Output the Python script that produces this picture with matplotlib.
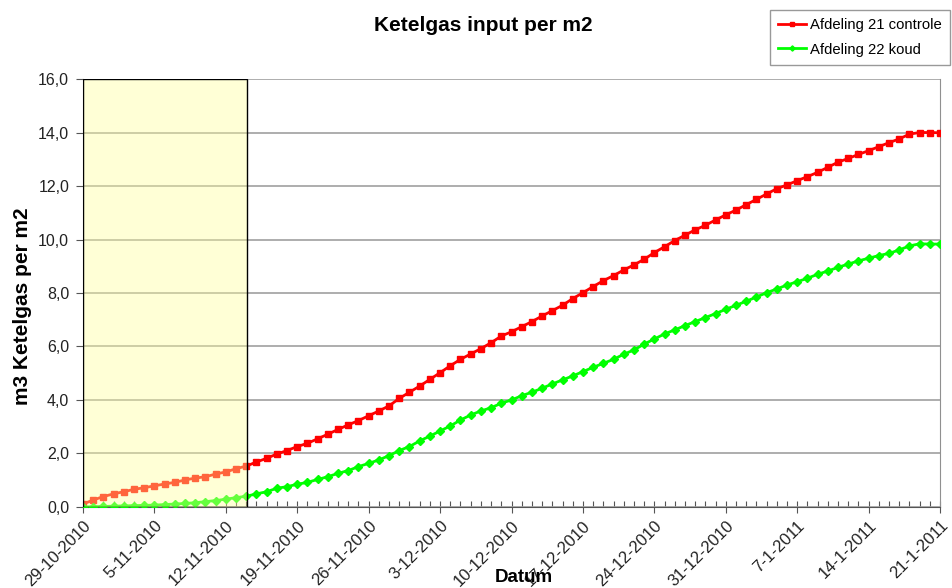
import pandas as pd
import matplotlib
matplotlib.use('Agg')
import matplotlib.pyplot as plt
from matplotlib.patches import Rectangle
from matplotlib.ticker import MultipleLocator, FixedLocator

plt.rcParams['font.family'] = ['Liberation Sans', 'DejaVu Sans']

# Daily values from 29-10-2010 to 21-1-2011
dates = pd.date_range('2010-10-29', '2011-01-21', freq='D')

afd21_controle = [
    0.11, 0.26, 0.39, 0.49, 0.57, 0.66, 0.72, 0.79, 0.86, 0.92,
    1.01, 1.08, 1.13, 1.23, 1.31, 1.43, 1.53, 1.68, 1.82, 1.98,
    2.11, 2.26, 2.38, 2.55, 2.72, 2.90, 3.07, 3.23, 3.41, 3.59,
    3.78, 4.06, 4.29, 4.52, 4.77, 5.02, 5.28, 5.52, 5.72, 5.92,
    6.14, 6.39, 6.55, 6.74, 6.93, 7.14, 7.34, 7.54, 7.79, 8.01,
    8.24, 8.46, 8.65, 8.86, 9.05, 9.26, 9.51, 9.73, 9.96, 10.16,
    10.36, 10.53, 10.73, 10.92, 11.10, 11.30, 11.50, 11.70, 11.90, 12.04,
    12.20, 12.35, 12.51, 12.70, 12.89, 13.03, 13.18, 13.32, 13.47, 13.62,
    13.76, 13.94, 14.00, 14.00, 13.99,
]

afd22_koud = [
    0.00, 0.01, 0.02, 0.03, 0.04, 0.05, 0.06, 0.07, 0.09, 0.11,
    0.13, 0.16, 0.20, 0.24, 0.29, 0.35, 0.40, 0.49, 0.57, 0.70,
    0.76, 0.85, 0.92, 1.03, 1.13, 1.26, 1.36, 1.51, 1.63, 1.76,
    1.92, 2.11, 2.26, 2.47, 2.65, 2.84, 3.03, 3.25, 3.44, 3.59,
    3.71, 3.88, 4.00, 4.16, 4.29, 4.44, 4.60, 4.75, 4.90, 5.06,
    5.22, 5.37, 5.52, 5.71, 5.87, 6.09, 6.28, 6.47, 6.62, 6.78,
    6.93, 7.08, 7.23, 7.39, 7.54, 7.69, 7.85, 8.01, 8.15, 8.30,
    8.42, 8.55, 8.70, 8.82, 8.96, 9.08, 9.20, 9.30, 9.40, 9.48,
    9.61, 9.76, 9.84, 9.83, 9.83,
]

tick_labels = ['29-10-2010', '5-11-2010', '12-11-2010', '19-11-2010', '26-11-2010',
               '3-12-2010', '10-12-2010', '17-12-2010', '24-12-2010', '31-12-2010',
               '7-1-2011', '14-1-2011', '21-1-2011']

# shaded start-up period (29-10 to ~14-11)
shade_start = pd.Timestamp('2010-10-29')
shade_end = pd.Timestamp('2010-11-14 02:00')

fig = plt.figure(figsize=(9.52, 5.88), dpi=100)
ax = fig.add_axes([0.0872, 0.1378, 0.9002, 0.7278])

x = matplotlib.dates.date2num(dates)

ax.plot(x, afd21_controle, color='#ff0000', lw=2, marker='s', ms=4.2,
        label='Afdeling 21 controle', zorder=3)
ax.plot(x, afd22_koud, color='#00ff00', lw=2, marker='D', ms=3.8,
        label='Afdeling 22 koud', zorder=3)

x0 = matplotlib.dates.date2num(shade_start)
x1 = matplotlib.dates.date2num(shade_end)
ax.add_patch(Rectangle((x0, 0), x1 - x0, 16, facecolor='#ffff99', alpha=0.4,
                       edgecolor='none', zorder=4))
ax.add_patch(Rectangle((x0, 0), x1 - x0, 16, facecolor='none',
                       edgecolor='black', lw=1.0, zorder=5))

ax.set_xlim(x[0], x[-1])
ax.set_ylim(0, 16)

ax.yaxis.set_major_locator(MultipleLocator(2))
ax.set_yticklabels([f'{v:.1f}'.replace('.', ',') for v in ax.get_yticks()])
ax.grid(axis='y', color='#a0a0a0', lw=1.2)
ax.set_axisbelow(True)

ax.xaxis.set_major_locator(FixedLocator(x[::7]))
ax.xaxis.set_minor_locator(FixedLocator(x))
ax.set_xticklabels(tick_labels, rotation=45, ha='right', rotation_mode='anchor')

ax.tick_params(axis='x', which='major', direction='inout', length=8, width=0.8,
               labelsize=12, pad=4, color='#555555', labelcolor='#222222')
ax.tick_params(axis='x', which='minor', direction='in', length=4, width=0.8,
               color='#555555')
ax.tick_params(axis='y', which='major', direction='out', length=5, width=0.8,
               labelsize=11.5, pad=5, color='#555555', labelcolor='#222222')

ax.spines['top'].set_visible(False)
ax.spines['right'].set_color('#909090')
ax.spines['left'].set_color('#707070')
ax.spines['bottom'].set_color('#555555')

fig.text(0.508, 0.956, 'Ketelgas input per m2', ha='center', va='center',
         fontsize=15, fontweight='bold')
fig.text(0.024, 0.48, 'm3 Ketelgas per m2', ha='center', va='center',
         rotation=90, fontsize=15, fontweight='bold')
fig.text(0.55, 0.018, 'Datum', ha='center', va='center',
         fontsize=13.5, fontweight='bold')

leg = fig.legend(loc='upper right', bbox_to_anchor=(0.998, 0.983),
                 borderaxespad=0, fontsize=10.7, frameon=True, fancybox=False,
                 handlelength=1.9, borderpad=0.55, labelspacing=0.7,
                 handletextpad=0.25, markerscale=0.7)
leg.get_frame().set_edgecolor('#808080')
leg.get_frame().set_linewidth(1.0)

fig.savefig('out.png', dpi=100)
